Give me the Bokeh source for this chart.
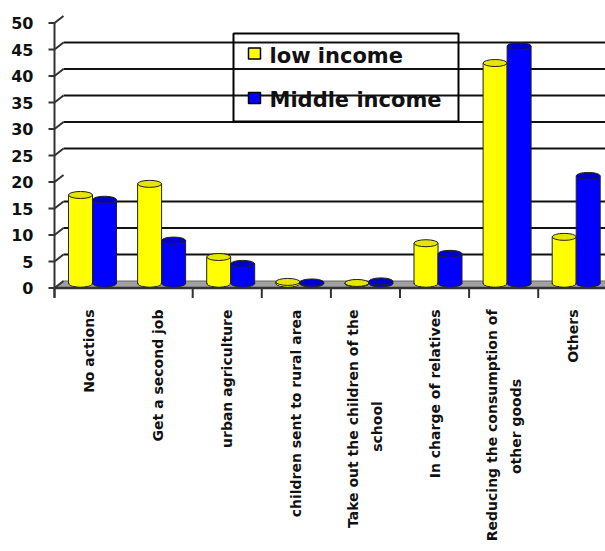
import math

from bokeh.core.properties import value
from bokeh.embed import file_html
from bokeh.models import Range1d
from bokeh.plotting import figure
from bokeh.resources import INLINE

# ---------------------------------------------------------------- data
categories = [
    "No actions",
    "Get a second job",
    "urban agriculture",
    "children sent to rural area",
    "Take out the children of the\nschool",
    "In charge of relatives",
    "Reducing the consumption of\nother goods",
    "Others",
]
low_income = [16.7, 18.8, 5.0, 0.3, 0.1, 7.6, 41.6, 8.8]
middle_income = [15.8, 8.1, 3.7, 0.2, 0.4, 5.6, 44.8, 20.3]
series_names = ["low income", "Middle income"]
series_colors = ["#FFFF00", "#0000FF"]
series_top_colors = ["#E6E600", "#0000C8"]

y_ticks = [0, 5, 10, 15, 20, 25, 30, 35, 40, 45, 50]
y_tick_labels = [str(t) for t in y_ticks]
gridline_values = [5, 10, 15, 25, 30, 35, 40, 45]
category_tick_slots = [0, 2, 3, 4, 5, 6, 7, 8]

# ---------------------------------------------------------------- layout
W, H = 605, 551
CAT_PX = 69.1          # width of one category, pixels
X_ORIGIN = 57.45       # left edge of the first category in the bar plane
Y_ORIGIN = 283.0       # pixel row of value 0 in the bar plane
PX_PER_UNIT = 5.3      # pixels per percentage point
FRONT = (-3.45, 4.5)   # pixel shift of the front plane from the bar plane
BACK = (5.55, -2.5)    # pixel shift of the back wall from the bar plane
BAR_PX = 24
LABEL_TOP_PX = 309     # category labels hang from this pixel row
LINE_GAP_PX = 24       # distance between the two lines of a wrapped label
SECOND_LINE_MID_PX = 426  # second lines are centred under their first line
FONT = value("DejaVu Sans")


def xd(px):
    return (px - X_ORIGIN) / CAT_PX


def yd(px):
    return (Y_ORIGIN - px) / PX_PER_UNIT


fdx, fdy = FRONT[0] / CAT_PX, -FRONT[1] / PX_PER_UNIT
bdx, bdy = BACK[0] / CAT_PX, -BACK[1] / PX_PER_UNIT
x_end = xd(W + 5)

p = figure(
    width=W, height=H,
    x_range=Range1d(xd(0), xd(W)), y_range=Range1d(yd(H), yd(0)),
    output_backend="svg", toolbar_location=None,
    x_axis_location=None, y_axis_location=None,
    min_border=0,
)
p.grid.visible = False
p.outline_line_color = None
p.background_fill_color = "white"
p.border_fill_color = "white"

# floor of the 3-D box
p.patch([fdx, x_end, x_end, bdx], [fdy, fdy, bdy, bdy],
        fill_color="#A0A0A0", line_color="#666666", line_width=1)

# back-wall gridlines
n_g = len(gridline_values)
p.segment(x0=[bdx] * n_g, y0=[g + bdy for g in gridline_values],
          x1=[x_end] * n_g, y1=[g + bdy for g in gridline_values],
          line_color="#111111", line_width=2)

# value axis: front line, outer ticks and depth ticks
n_t = len(y_ticks)
p.segment(x0=[fdx], y0=[fdy + yd(297) - yd(287.5)], x1=[fdx], y1=[y_ticks[-1] + fdy],
          line_color="#333333", line_width=2)
p.segment(x0=[fdx - 6 / CAT_PX] * n_t, y0=[t + fdy for t in y_ticks],
          x1=[fdx] * n_t, y1=[t + fdy for t in y_ticks],
          line_color="#333333", line_width=2)
p.segment(x0=[fdx] * n_t, y0=[t + fdy for t in y_ticks],
          x1=[bdx] * n_t, y1=[t + bdy for t in y_ticks],
          line_color="#333333", line_width=2)

# category axis: front edge and ticks
p.segment(x0=[fdx], y0=[fdy], x1=[x_end], y1=[fdy], line_color="#333333", line_width=2.5)
n_c = len(category_tick_slots)
p.segment(x0=[k + fdx for k in category_tick_slots], y0=[fdy] * n_c,
          x1=[k + fdx for k in category_tick_slots], y1=[fdy - 10 / PX_PER_UNIT] * n_c,
          line_color="#333333", line_width=2)

# cylinders
centers = [i + 0.5 for i in range(len(categories))]
half = BAR_PX / 2 / CAT_PX
for values, color, top_color, shift in zip(
        [low_income, middle_income], series_colors, series_top_colors, [-half, half]):
    xs = [c + shift for c in centers]
    zeros = [0] * len(values)
    p.ellipse(x=xs, y=zeros, width=BAR_PX, height=7, width_units="screen",
              height_units="screen", fill_color=color, line_color="#222222", line_width=1)
    p.vbar(x=xs, width=2 * half, bottom=zeros, top=values,
           fill_color=color, line_color="#222222", line_width=1)
    p.ellipse(x=xs, y=zeros, width=BAR_PX - 1.5, height=6, width_units="screen",
              height_units="screen", fill_color=color, line_color=None)
    p.ellipse(x=xs, y=values, width=BAR_PX, height=7, width_units="screen",
              height_units="screen", fill_color=top_color, line_color="#222222", line_width=1)

# value-axis labels
p.text(x=[xd(33)] * n_t, y=[t + fdy for t in y_ticks], text=y_tick_labels,
       text_align="right", text_baseline="middle", text_font=FONT,
       text_font_style="bold", text_font_size="16px", text_color="#111111")

# category labels, read bottom-to-top and hung from the axis;
# a wrapped label keeps its second line centred beside the first
first_x, first_text, second_x, second_text = [], [], [], []
gap = LINE_GAP_PX / 2 / CAT_PX
for c, label in zip(centers, categories):
    lines = label.split("\n")
    if len(lines) == 1:
        first_x.append(c + fdx)
        first_text.append(lines[0])
    else:
        first_x.append(c + fdx - gap)
        first_text.append(lines[0])
        second_x.append(c + fdx + gap)
        second_text.append(lines[1])
label_style = dict(angle=math.pi / 2, text_baseline="middle", text_font=FONT,
                   text_font_style="bold", text_font_size="14px", text_color="#111111")
p.text(x=first_x, y=[yd(LABEL_TOP_PX)] * len(first_x), text=first_text,
       text_align="right", **label_style)
p.text(x=second_x, y=[yd(SECOND_LINE_MID_PX)] * len(second_x), text=second_text,
       text_align="center", **label_style)

# legend box
p.quad(left=[xd(233)], right=[xd(458)], top=[yd(33)], bottom=[yd(121)],
       fill_color=None, line_color="black", line_width=2)
p.rect(x=[xd(254), xd(254)], y=[yd(53), yd(97.5)], width=12, height=11,
       width_units="screen", height_units="screen",
       fill_color=series_colors, line_color="black", line_width=1.5)
p.text(x=[xd(269), xd(269)], y=[yd(55), yd(99)], text=series_names,
       text_align="left", text_baseline="middle", text_font=FONT,
       text_font_style="bold", text_font_size="21px", text_color="#111111")

open("out.html", "w").write(file_html(p, INLINE))
